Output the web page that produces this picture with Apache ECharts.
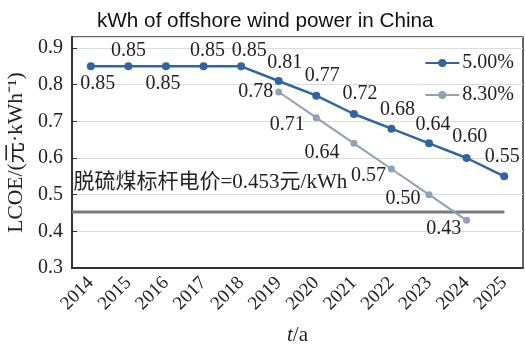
<!DOCTYPE html>
<html>
<head>
<meta charset="utf-8">
<script src="https://cdn.jsdelivr.net/npm/echarts@6/dist/echarts.min.js"></script>
<style>html,body{margin:0;padding:0;background:#fff}#c{width:525px;height:344px}</style>
</head>
<body>
<div id="c"></div>
<script>
// Levelized cost of offshore wind electricity under two discount rates
const years = ['2014','2015','2016','2017','2018','2019','2020','2021','2022','2023','2024','2025'];
const rate5 = [0.85, 0.85, 0.85, 0.85, 0.85, 0.81, 0.77, 0.72, 0.68, 0.64, 0.60, 0.55];
const rate83 = [null, null, null, null, null, 0.78, 0.71, 0.64, 0.57, 0.50, 0.43, null];
const coalPrice = 0.453;
const coalLabel = '脱硫煤标杆电价=0.453元/kWh';
const yTicks = [0.3, 0.4, 0.5, 0.6, 0.7, 0.8, 0.9];

const serif = '"Liberation Serif", "Times New Roman", "Noto Sans CJK SC", serif';
const blue = '#33659a';
const grey = '#8fa1b3';
const coalGrey = '#7a7a7a';

// label placement for each point of the 5.00% line
const pos5 = ['bottom','top','bottom','top','top','top','top','top','top','top','top','top'];
const off5 = [[7,1],[0,0],[-3,1],[4,0],[8,0],[6,-2],[6,-4],[6,-4],[6,-3],[4,-3],[3,-5],[-2,-4]];
// label placement for each point of the 8.30% line
const off83 = [null,null,null,null,null,[0,0],[-6,7],[-9,9],[0,7],[-3,4],[0,8],null];

const chart = echarts.init(document.getElementById('c'), null, {renderer: 'canvas'});
chart.setOption({
  animation: false,
  title: {
    text: 'kWh of offshore wind power in China',
    left: 92, top: 6,
    textStyle: {fontFamily: '"Liberation Sans", Arial, sans-serif', fontWeight: 'normal', fontSize: 20.7, color: '#111'}
  },
  legend: {
    right: 6, top: 48, orient: 'vertical',
    itemWidth: 34, itemHeight: 10, itemGap: 12,
    data: ['5.00%', '8.30%'],
    textStyle: {fontFamily: serif, fontSize: 20, color: '#222', padding: [0,0,0,-2]}
  },
  grid: {left: 72, right: 2, top: 37, bottom: 76, outerBoundsMode: 'none', containLabel: false,
    show: true, borderColor: '#333', borderWidth: 1.5},
  xAxis: [{
    type: 'category', data: years,
    name: '{i|t}/a', nameLocation: 'middle', nameGap: 57,
    nameTextStyle: {fontFamily: serif, fontSize: 21, color: '#222', rich: {i: {fontFamily: serif, fontStyle: 'italic', fontSize: 21, color: '#222'}}},
    axisLine: {lineStyle: {color: '#333', width: 2}},
    axisTick: {inside: true, alignWithLabel: true, length: 5, lineStyle: {color: '#333'}},
    axisLabel: {rotate: 45, fontFamily: serif, fontSize: 19, color: '#222', margin: 12}
  }, {
    type: 'value', min: 0, max: 12, show: false
  }],
  yAxis: {
    type: 'value', min: yTicks[0], max: 0.93, interval: 0.1,
    name: 'LCOE/(元·kWh⁻¹)', nameLocation: 'middle', nameGap: 44,
    nameTextStyle: {fontFamily: serif, fontSize: 21.5, color: '#222'},
    axisLine: {show: true, lineStyle: {color: '#333', width: 2}},
    axisTick: {show: true, inside: true, length: 5, lineStyle: {color: '#333'}},
    axisLabel: {fontFamily: serif, fontSize: 20, color: '#222', margin: 9, showMaxLabel: false,
      formatter: v => yTicks.some(t => Math.abs(t - v) < 1e-6) ? v.toFixed(1) : ''},
    splitLine: {lineStyle: {color: '#dcdcdc', width: 1}}
  },
  series: [{
    name: 'coal',
    type: 'line', xAxisIndex: 1, silent: true, symbol: 'circle', symbolSize: 1,
    showAllSymbol: true, clip: false,
    lineStyle: {color: coalGrey, width: 3},
    itemStyle: {color: coalGrey},
    data: [
      {value: [0, coalPrice], label: {show: true, position: 'right', distance: 1, offset: [0, -29], formatter: coalLabel,
        fontFamily: serif, fontSize: 21, color: '#222'}},
      [11.5, coalPrice]
    ],
    z: 1
  }, {
    name: '5.00%', type: 'line', symbol: 'circle', symbolSize: 8,
    itemStyle: {color: blue}, lineStyle: {color: blue, width: 2.5},
    data: rate5.map((v, i) => ({value: v, label: {show: true, position: pos5[i], offset: off5[i], distance: 2,
      fontFamily: serif, fontSize: 20, color: '#222', formatter: p => p.value.toFixed(2)}})),
    z: 3
  }, {
    name: '8.30%', type: 'line', symbol: 'circle', symbolSize: 7,
    itemStyle: {color: grey}, lineStyle: {color: grey, width: 2},
    data: rate83.map((v, i) => v == null ? null : ({value: v, label: {show: true, position: 'left', offset: off83[i], distance: 2,
      fontFamily: serif, fontSize: 20, color: '#222', formatter: p => p.value.toFixed(2)}})),
    z: 2
  }]
});
</script>
</body>
</html>
